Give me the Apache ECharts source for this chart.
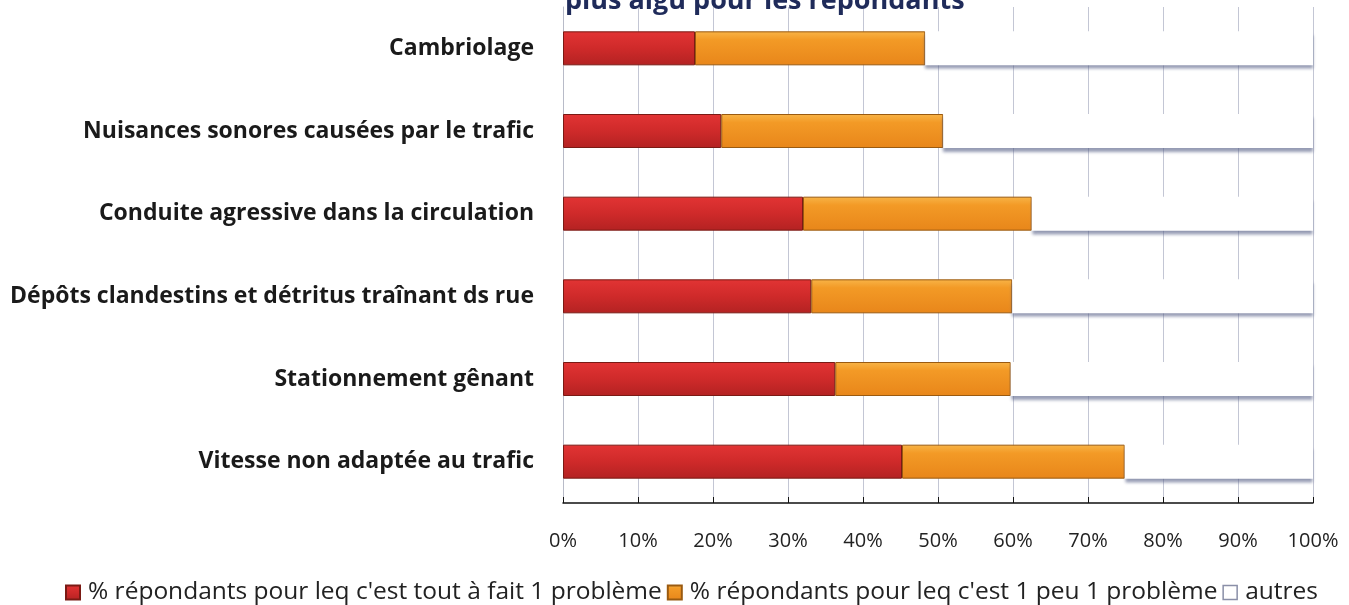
<!DOCTYPE html>
<html><head><meta charset="utf-8">
<script src="https://cdn.jsdelivr.net/npm/echarts@6/dist/echarts.min.js"></script>
<style>html,body{margin:0;padding:0;background:#fff}#c{width:1349px;height:605px}</style>
</head><body><div id="c"></div>
<script>
var categories = ["Cambriolage","Nuisances sonores causées par le trafic","Conduite agressive dans la circulation","Dépôts clandestins et détritus traînant ds rue","Stationnement gênant","Vitesse non adaptée au trafic"];
var toutAFait = [17.6, 21.1, 32.0, 33.1, 36.3, 45.2];
var unPeu = [30.7, 29.6, 30.5, 26.8, 23.4, 29.7];
var autres = [51.7, 49.3, 37.5, 40.1, 40.3, 25.1];
var seriesNames = ["% répondants pour leq c'est tout à fait 1 problème","% répondants pour leq c'est 1 peu 1 problème","autres"];
var tickLabels = ["0%","10%","20%","30%","40%","50%","60%","70%","80%","90%","100%"];
var titleText = "plus aigu pour les répondants";

var chart = echarts.init(document.getElementById('c'));
var F = '"Open Sans", sans-serif';
var red = new echarts.graphic.LinearGradient(0,0,0,1,[{offset:0,color:'#e23434'},{offset:0.5,color:'#cf2a2a'},{offset:1,color:'#b32222'}]);
var orange = new echarts.graphic.LinearGradient(0,0,0,1,[{offset:0,color:'#f8b447'},{offset:0.25,color:'#f39a26'},{offset:1,color:'#e8861a'}]);
chart.setOption({
  animation:false,
  title:{text:titleText,left:560,top:-17,textStyle:{fontFamily:F,fontSize:27,fontWeight:'bold',color:'#1f2b5a'}},
  grid:{left:563,right:36,top:7,bottom:102,containLabel:false},
  xAxis:{type:'value',min:0,max:100,interval:10,
    axisLine:{show:true,lineStyle:{color:'#111',width:1.5}},
    axisTick:{show:true,inside:true,length:6,lineStyle:{color:'#111'}},
    axisLabel:{formatter:function(v){return tickLabels[Math.round(v/10)];},fontFamily:F,fontSize:20,color:'#222',margin:28},
    splitLine:{show:true,lineStyle:{color:'#c3c6d4',width:1}}},
  yAxis:{type:'category',data:categories,inverse:true,
    axisLine:{show:true,lineStyle:{color:'#b8bbc8'}},axisTick:{show:false},
    axisLabel:{fontFamily:F,fontSize:23,fontWeight:'bold',color:'#1a1a1a',margin:29}},
  legend:{top:575,left:60,right:0,itemWidth:14,itemHeight:14,itemGap:5,icon:'rect',
    textStyle:{fontFamily:F,fontSize:24.5,color:'#222',padding:[0,0,0,3]},
    data:[{name:seriesNames[0]},{name:seriesNames[1]},{name:seriesNames[2],itemStyle:{color:'#fff',borderColor:'#8a8fa8',borderWidth:1.5}}]},
  series:[
    {name:seriesNames[0],type:'bar',stack:'a',barWidth:34,data:toutAFait,itemStyle:{color:red,borderColor:'#7a1a14',borderWidth:1}},
    {name:seriesNames[1],type:'bar',stack:'a',barWidth:34,data:unPeu,itemStyle:{color:orange,borderColor:'#9a5a10',borderWidth:1}},
    {name:seriesNames[2],type:'bar',stack:'a',barWidth:34,data:autres,itemStyle:{color:'#fff',shadowColor:'rgba(80,90,130,0.6)',shadowOffsetY:4,shadowBlur:3}}
  ]
});
</script></body></html>
